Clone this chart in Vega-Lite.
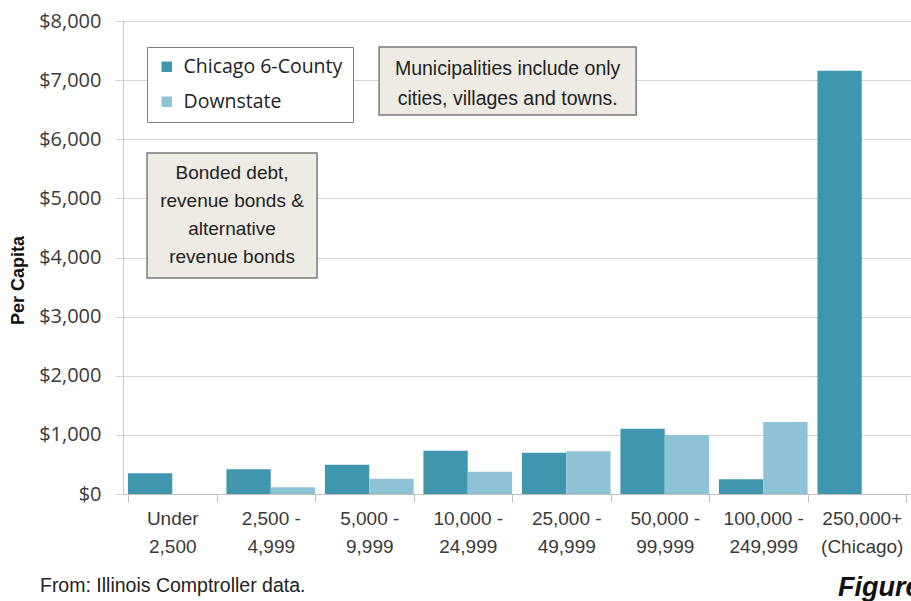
{
  "$schema": "https://vega.github.io/schema/vega-lite/v6.json",
  "width": 788,
  "height": 473,
  "autosize": "none",
  "padding": {"left": 123, "top": 21, "right": 0, "bottom": 107},
  "background": "white",
  "config": {"view": {"stroke": null}},
  "datasets": {
    "bars": [
      {"size": "Under|2,500", "series": "Chicago 6-County", "value": 350},
      {"size": "Under|2,500", "series": "Downstate", "value": 0},
      {"size": "2,500 -|4,999", "series": "Chicago 6-County", "value": 418},
      {"size": "2,500 -|4,999", "series": "Downstate", "value": 113},
      {"size": "5,000 -|9,999", "series": "Chicago 6-County", "value": 496},
      {"size": "5,000 -|9,999", "series": "Downstate", "value": 259},
      {"size": "10,000 -|24,999", "series": "Chicago 6-County", "value": 733},
      {"size": "10,000 -|24,999", "series": "Downstate", "value": 377},
      {"size": "25,000 -|49,999", "series": "Chicago 6-County", "value": 699},
      {"size": "25,000 -|49,999", "series": "Downstate", "value": 722},
      {"size": "50,000 -|99,999", "series": "Chicago 6-County", "value": 1105},
      {"size": "50,000 -|99,999", "series": "Downstate", "value": 998},
      {"size": "100,000 -|249,999", "series": "Chicago 6-County", "value": 248},
      {"size": "100,000 -|249,999", "series": "Downstate", "value": 1218},
      {"size": "250,000+|(Chicago)", "series": "Chicago 6-County", "value": 7157},
      {"size": "250,000+|(Chicago)", "series": "Downstate", "value": 0}
    ]
  },
  "layer": [
    {
      "data": {"name": "bars"},
      "mark": {"type": "bar"},
      "encoding": {
        "x": {
          "field": "size", "type": "nominal", "sort": null,
          "scale": {"paddingInner": 0.1, "paddingOuter": 0.05},
          "axis": {
            "title": null,
            "labelAngle": 0,
            "labelExpr": "split(datum.label, '|')",
            "labelFont": "Liberation Sans",
            "labelFontSize": 19,
            "labelLineHeight": 28,
            "labelColor": "#3a3a3a",
            "labelPadding": 7,
            "domainColor": "#bfbfbf",
            "tickColor": "#bfbfbf",
            "tickBand": "extent",
            "tickSize": 8,
            "labelBaseline": "top"
          }
        },
        "xOffset": {"field": "series", "type": "nominal", "sort": ["Chicago 6-County", "Downstate"]},
        "y": {
          "field": "value", "type": "quantitative",
          "scale": {"domain": [0, 8000], "nice": false},
          "axis": {
            "title": "Per Capita",
            "titleFont": "Liberation Sans",
            "titleFontSize": 18,
            "titleFontWeight": "bold",
            "titleColor": "#111111",
            "titleAngle": -90,
            "titleX": -105,
            "titleY": 259,
            "titleAlign": "center",
            "titleBaseline": "middle",
            "format": "$,.0f",
            "values": [0, 1000, 2000, 3000, 4000, 5000, 6000, 7000, 8000],
            "labelOverlap": false,
            "labelFont": "Open Sans",
            "labelFontSize": 20,
            "labelColor": "#3a3a3a",
            "labelPadding": 14,
            "gridColor": "#d4d4d4",
            "tickColor": "#d4d4d4",
            "tickSize": 8,
            "domain": true,
            "domainColor": "#c8c8c8"
          }
        },
        "color": {
          "field": "series", "type": "nominal",
          "scale": {"domain": ["Chicago 6-County", "Downstate"], "range": ["#3f96ad", "#8ec3d6"]},
          "legend": {
            "title": null,
            "orient": "none",
            "legendX": 24,
            "legendY": 26,
            "fillColor": "white",
            "strokeColor": "#808080",
            "padding": 10,
            "rowPadding": 14,
            "symbolType": "square",
            "symbolSize": 110,
            "symbolStrokeWidth": 0,
            "labelFont": "Open Sans",
            "labelFontSize": 19.5,
            "labelColor": "#222222",
            "labelOffset": 7
          }
        }
      }
    },
    {
      "data": {"values": [{"note": "municipalities"}]},
      "mark": {"type": "rect", "fill": "#edebe3", "stroke": "#7a7a7a", "strokeWidth": 1.5},
      "encoding": {
        "x": {"datum": 2.6, "type": "quantitative", "scale": {"domain": [0, 8], "nice": false, "zero": false}, "axis": null},
        "x2": {"datum": 5.21},
        "y": {"datum": 7560, "type": "quantitative"},
        "y2": {"datum": 6410}
      }
    },
    {
      "data": {"values": [{"lines": ["Municipalities include only", "cities, villages and towns."]}]},
      "mark": {"type": "text", "font": "Liberation Sans", "fontSize": 19.5, "color": "#222222", "align": "center", "baseline": "middle", "lineHeight": 30},
      "encoding": {
        "x": {"datum": 3.905, "type": "quantitative", "scale": {"domain": [0, 8], "nice": false, "zero": false}, "axis": null},
        "y": {"datum": 7190, "type": "quantitative"},
        "text": {"field": "lines"}
      }
    },
    {
      "data": {"values": [{"note": "bonded"}]},
      "mark": {"type": "rect", "fill": "#edebe3", "stroke": "#7a7a7a", "strokeWidth": 1.5},
      "encoding": {
        "x": {"datum": 0.244, "type": "quantitative", "scale": {"domain": [0, 8], "nice": false, "zero": false}, "axis": null},
        "x2": {"datum": 1.97},
        "y": {"datum": 5767, "type": "quantitative"},
        "y2": {"datum": 3653}
      }
    },
    {
      "data": {"values": [{"lines": ["Bonded debt,", "revenue bonds &", "alternative", "revenue bonds"]}]},
      "mark": {"type": "text", "font": "Liberation Sans", "fontSize": 19, "color": "#222222", "align": "center", "baseline": "middle", "lineHeight": 28},
      "encoding": {
        "x": {"datum": 1.107, "type": "quantitative", "scale": {"domain": [0, 8], "nice": false, "zero": false}, "axis": null},
        "y": {"datum": 5429, "type": "quantitative"},
        "text": {"field": "lines"}
      }
    },
    {
      "data": {"values": [{"label": "From: Illinois Comptroller data."}]},
      "mark": {"type": "text", "font": "Liberation Sans", "fontSize": 19.5, "color": "#222222", "align": "left", "baseline": "middle"},
      "encoding": {
        "x": {"datum": -0.843, "type": "quantitative", "scale": {"domain": [0, 8], "nice": false, "zero": false}, "axis": null},
        "y": {"datum": -1556, "type": "quantitative"},
        "text": {"field": "label"}
      }
    },
    {
      "data": {"values": [{"label": "Figure"}]},
      "mark": {"type": "text", "font": "Liberation Sans", "fontSize": 27, "fontWeight": "bold", "fontStyle": "italic", "color": "#111111", "align": "left", "baseline": "alphabetic"},
      "encoding": {
        "x": {"datum": 7.26, "type": "quantitative", "scale": {"domain": [0, 8], "nice": false, "zero": false}, "axis": null},
        "y": {"datum": -1720, "type": "quantitative"},
        "text": {"field": "label"}
      }
    }
  ],
  "resolve": {"scale": {"x": "independent"}}
}
